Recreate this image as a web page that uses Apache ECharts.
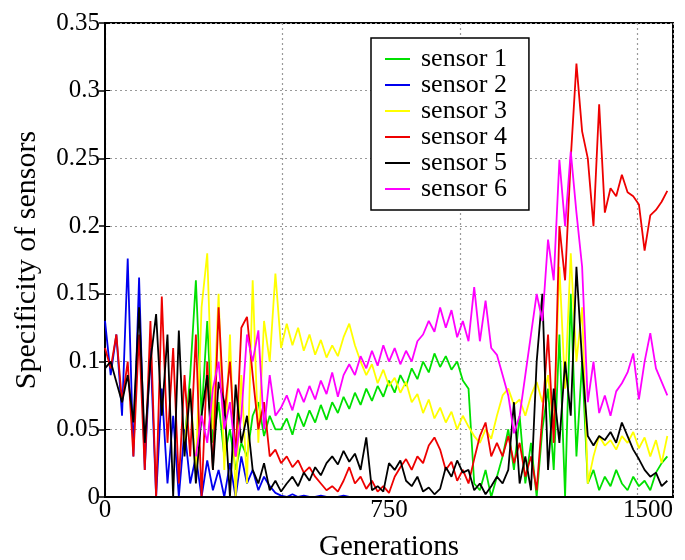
<!DOCTYPE html>
<html>
<head>
<meta charset="utf-8">
<script src="https://cdn.jsdelivr.net/npm/echarts@6/dist/echarts.min.js"></script>
<style>
html, body { margin: 0; padding: 0; background: #fff; }
#chart { width: 685px; height: 560px; }
</style>
</head>
<body>
<div id="chart"></div>
<script>
// one sample every 15 generations
const generations = Array.from({length: 100}, (_, i) => i * 15);

const sensorNames = ['sensor 1', 'sensor 2', 'sensor 3', 'sensor 4', 'sensor 5', 'sensor 6'];
const sensorColors = ['#00e000', '#0000ee', '#ffff00', '#ee0000', '#000000', '#ff00ff'];

const xTickLabels = ['0', '750', '1500'];

const sensor1 = [null, null, null, null, null, null, null, null, null, null, null, null, null, null,
  0.04, 0.09, 0.16, 0.06, 0.13, 0.04, 0.07, 0.03, 0.05, 0.02, 0.04, 0.03, 0.06, 0.07, 0.045, 0.06,
  0.05, 0.05, 0.058, 0.046, 0.062, 0.052, 0.064, 0.055, 0.068, 0.057, 0.07, 0.062, 0.074, 0.065, 0.077,
  0.068, 0.08, 0.071, 0.082, 0.074, 0.086, 0.077, 0.09, 0.082, 0.095, 0.087, 0.1, 0.092, 0.106, 0.096,
  0.104, 0.094, 0.1, 0.086, 0.08, 0.01, 0.005, 0.02, 0.0, 0.015, 0.03, 0.05, 0.02, 0.06, 0.01,
  0.04, 0.0, 0.05, 0.08, 0.02, 0.12, 0.0, 0.15, 0.03, 0.1, 0.01, 0.02, 0.005, 0.015, 0.008,
  0.02, 0.01, 0.005, 0.015, 0.008, 0.012, 0.005, 0.018, 0.025, 0.03];

const sensor2 = [0.13, 0.09, 0.12, 0.06, 0.176, 0.03, 0.162, 0.02, 0.11, 0.0, 0.08, 0.01, 0.06, 0.0, 0.05,
  0.01, 0.03, 0.0, 0.027, 0.005, 0.02, 0.0, 0.025, 0.0, 0.03, 0.01, 0.02, 0.005, 0.015, 0.008,
  0.003, 0.001, 0.0, 0.002, 0.0, 0.001, 0.0, 0.0, 0.001, 0.0, 0.0, 0.0, 0.001, 0.0, 0.0,
  0.0, 0.0, 0.0, 0.0, 0.0, 0.0, 0.0, 0.0, 0.0, 0.0, 0.0, 0.0, 0.0, 0.0, 0.0,
  0.0, 0.0, 0.0, 0.0, 0.0, 0.0, 0.0, 0.0, 0.0, 0.0, 0.0, 0.0, 0.0, 0.0, 0.0,
  0.0, 0.0, 0.0, 0.0, 0.0, 0.0, 0.0, 0.0, 0.0, 0.0, 0.0, 0.0, 0.0, 0.0, 0.0,
  0.0, 0.0, 0.0, 0.0, 0.0, 0.0, 0.0, 0.0, 0.0, 0.0];

const sensor3 = [null, null, null, null, null, null, null, null, null, null, null, null, null, null,
  0.04, 0.08, 0.02, 0.14, 0.18, 0.05, 0.15, 0.02, 0.12, 0.0, 0.09, 0.01, 0.16, 0.04, 0.13, 0.1,
  0.165, 0.11, 0.128, 0.112, 0.125, 0.108, 0.12, 0.105, 0.116, 0.103, 0.112, 0.104, 0.118, 0.128, 0.112,
  0.1, 0.09, 0.098, 0.084, 0.094, 0.082, 0.088, 0.077, 0.085, 0.07, 0.076, 0.062, 0.072, 0.058, 0.066,
  0.055, 0.063, 0.05, 0.06, 0.052, 0.045, 0.04, 0.05, 0.043, 0.06, 0.075, 0.08, 0.068, 0.072, 0.06,
  0.075, 0.085, 0.07, 0.09, 0.05, 0.17, 0.08, 0.18, 0.1, 0.14, 0.01, 0.03, 0.045, 0.038, 0.042,
  0.035, 0.045, 0.04, 0.048, 0.036, 0.044, 0.03, 0.042, 0.025, 0.045];

const sensor4 = [0.11, 0.095, 0.12, 0.07, 0.1, 0.03, 0.12, 0.02, 0.13, 0.0, 0.148, 0.04, 0.11, 0.01, 0.09,
  0.03, 0.12, 0.0, 0.1, 0.02, 0.14, 0.06, 0.1, 0.03, 0.125, 0.133, 0.09, 0.05, 0.07, 0.03,
  0.035, 0.025, 0.03, 0.022, 0.027, 0.018, 0.022, 0.015, 0.01, 0.005, 0.008, 0.004, 0.012, 0.022, 0.01,
  0.015, 0.006, 0.012, 0.004, 0.008, 0.003, 0.015, 0.022, 0.028, 0.02, 0.03, 0.025, 0.038, 0.044, 0.035,
  0.02, 0.026, 0.012, 0.02, 0.01, 0.028, 0.045, 0.055, 0.03, 0.04, 0.03, 0.045, 0.025, 0.04, 0.015,
  0.03, 0.005, 0.06, 0.12, 0.04, 0.2, 0.16, 0.25, 0.32, 0.27, 0.25, 0.2, 0.29, 0.21, 0.228,
  0.222, 0.238, 0.225, 0.222, 0.216, 0.182, 0.208, 0.212, 0.218, 0.226];

const sensor5 = [0.095, 0.1, 0.085, 0.07, 0.09, 0.055, 0.14, 0.04, 0.1, 0.135, 0.06, 0.12, 0.0, 0.123, 0.03,
  0.08, 0.01, 0.06, 0.09, 0.02, 0.085, 0.07, 0.0, 0.083, 0.04, 0.06, 0.02, 0.01, 0.025, 0.005,
  0.012, 0.004, 0.01, 0.015, 0.008, 0.018, 0.012, 0.022, 0.016, 0.025, 0.03, 0.024, 0.034, 0.026, 0.032,
  0.02, 0.044, 0.005, 0.008, 0.004, 0.025, 0.02, 0.027, 0.012, 0.008, 0.015, 0.004, 0.007, 0.002, 0.006,
  0.022, 0.015, 0.027, 0.018, 0.02, 0.005, 0.01, 0.002, 0.008, 0.015, 0.01, 0.02, 0.07, 0.01, 0.03,
  0.005, 0.1, 0.15, 0.02, 0.08, 0.04, 0.1, 0.06, 0.17, 0.1, 0.045, 0.038, 0.045, 0.042, 0.048,
  0.04, 0.055, 0.045, 0.035, 0.028, 0.02, 0.015, 0.018, 0.008, 0.012];

const sensor6 = [null, null, null, null, null, null, null, null, null, null, null, null, null, null, null, null,
  0.03, 0.06, 0.04, 0.08, 0.1, 0.05, 0.07, 0.03, 0.06, 0.12, 0.1, 0.123, 0.05, 0.09,
  0.06, 0.066, 0.075, 0.064, 0.08, 0.07, 0.082, 0.072, 0.086, 0.076, 0.092, 0.074, 0.09, 0.098, 0.09,
  0.104, 0.095, 0.108, 0.097, 0.112, 0.1, 0.11, 0.098, 0.108, 0.1, 0.115, 0.12, 0.13, 0.122, 0.14,
  0.125, 0.138, 0.118, 0.13, 0.115, 0.155, 0.115, 0.145, 0.11, 0.105, 0.09, 0.075, 0.047, 0.06, 0.09,
  0.12, 0.15, 0.13, 0.19, 0.16, 0.249, 0.2, 0.255, 0.21, 0.17, 0.07, 0.1, 0.062, 0.075, 0.06,
  0.078, 0.084, 0.092, 0.106, 0.072, 0.1, 0.121, 0.095, 0.085, 0.075];

const sensorValues = [sensor1, sensor2, sensor3, sensor4, sensor5, sensor6];

function drawChart(id) {
  const chart = echarts.init(document.getElementById(id));
  const font = '"Liberation Serif", "Times New Roman", serif';

  const series = sensorNames.map((name, k) => ({
    name: name,
    type: 'line',
    xAxisIndex: 0,
    yAxisIndex: 0,
    showSymbol: false,
    lineStyle: { width: 1.8, color: sensorColors[k] },
    itemStyle: { color: sensorColors[k] },
    data: generations.map((g, i) => [g, sensorValues[k][i]])
  }));

  chart.setOption({
    animation: false,
    backgroundColor: '#fff',
    grid: {
      left: 105, right: 12, top: 23, bottom: 63,
      outerBoundsMode: 'none',
      containLabel: false,
      show: true, borderColor: '#000', borderWidth: 2
    },
    legend: {
      orient: 'vertical',
      left: 371, top: 38,
      padding: [8, 22, 8, 14],
      itemGap: 0,
      itemWidth: 25, itemHeight: 2,
      icon: 'rect',
      backgroundColor: '#fff',
      borderColor: '#000', borderWidth: 1.5,
      textStyle: { fontFamily: font, fontSize: 26, lineHeight: 26, color: '#000', padding: [0, 0, 0, 6] },
      data: sensorNames
    },
    xAxis: [{
      type: 'value',
      z: 10, // axis line drawn over the lines sitting at zero
      min: 0, max: 1500, interval: 750,
      name: 'Generations',
      nameLocation: 'middle',
      nameGap: 36,
      nameTextStyle: { fontFamily: font, fontSize: 29, color: '#000' },
      axisLine: { show: true, lineStyle: { color: '#000', width: 2 } },
      axisTick: { show: false },
      splitLine: { show: false },
      axisLabel: {
        fontFamily: font, fontSize: 25, color: '#000', margin: 1,
        alignMaxLabel: 'right',
        formatter: (v) => xTickLabels[Math.round(v / 750)]
      }
    }, {
      // dotted vertical grid of the original plot
      type: 'value',
      position: 'top',
      min: 0, max: 1600, interval: 500,
      axisLine: { show: false },
      axisTick: { show: false },
      axisLabel: { show: false },
      splitLine: { show: true, lineStyle: { color: '#999', type: [2, 3], width: 1.2 } }
    }],
    yAxis: [{
      type: 'value',
      min: 0, max: 0.35, interval: 0.05,
      name: 'Specificity of sensors',
      nameLocation: 'middle',
      nameGap: 63,
      nameTextStyle: { fontFamily: font, fontSize: 30, color: '#000' },
      axisLine: { show: true, lineStyle: { color: '#000', width: 2 } },
      axisTick: { show: true, inside: true, length: 5, lineStyle: { color: '#000' } },
      axisLabel: { fontFamily: font, fontSize: 25, color: '#000', margin: 5 },
      splitLine: { show: true, lineStyle: { color: '#999', type: [2, 3], width: 1.2 } }
    }, {
      type: 'value',
      position: 'right',
      min: 0, max: 0.35, interval: 0.05,
      axisLine: { show: false },
      axisTick: { show: true, inside: true, length: 6, lineStyle: { color: '#000', width: 1.5 } },
      axisLabel: { show: false },
      splitLine: { show: false }
    }],
    series: series
  });
}

drawChart('chart');
</script>
</body>
</html>
